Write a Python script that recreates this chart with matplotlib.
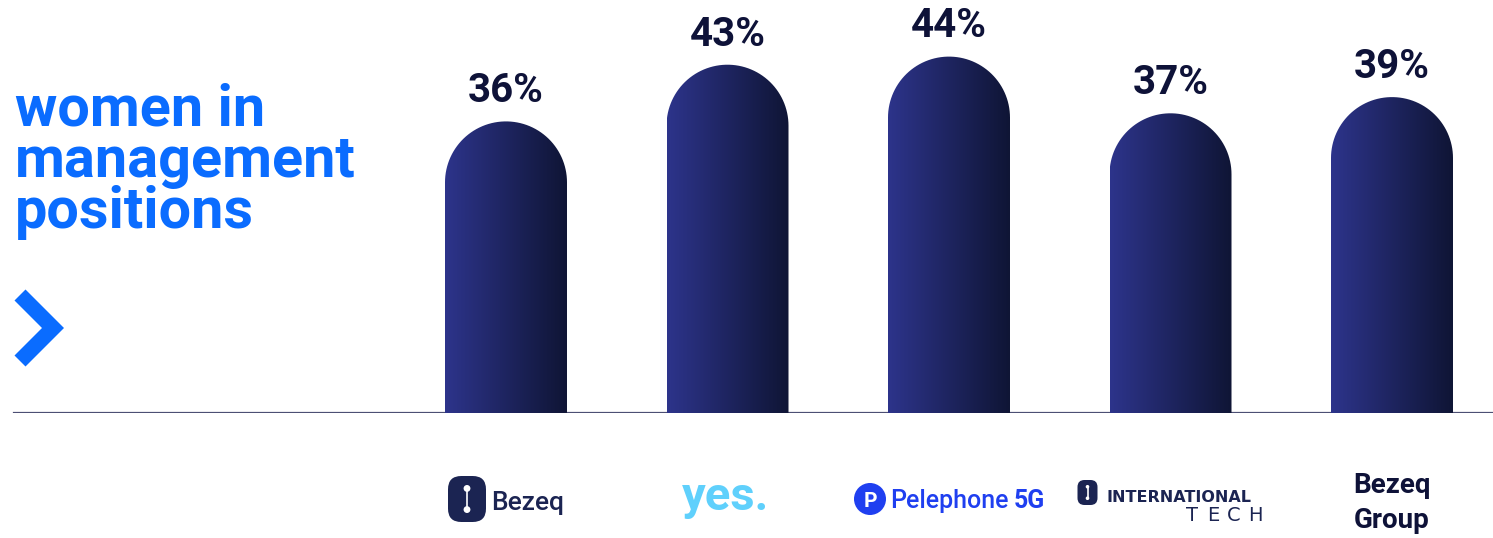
import numpy as np
import matplotlib
matplotlib.use("Agg")
import matplotlib.pyplot as plt
from matplotlib.path import Path
from matplotlib.patches import PathPatch, FancyBboxPatch, Circle
from matplotlib.colors import LinearSegmentedColormap
from matplotlib.lines import Line2D
from matplotlib.transforms import IdentityTransform

# data
companies = ["Bezeq", "yes", "Pelephone", "International Tech", "Bezeq Group"]
values = [36, 43, 44, 37, 39]
labels = ["36%", "43%", "44%", "37%", "39%"]
title_lines = ["women in", "management", "positions"]

W, H = 1493, 538
BLUE = "#0a6cff"
NAVY = "#0e1238"
LOGO_NAVY = "#1b2452"

plt.rcParams["font.family"] = ["Roboto", "DejaVu Sans"]

fig = plt.figure(figsize=(W / 100, H / 100), dpi=100)
ax = fig.add_axes([0, 125 / H, 1, 410 / H])
ax.set_xlim(-506 / 221.5, (W - 506) / 221.5)
ax.set_ylim(0, 410 / 8.1)
ax.axis("off")

cmap = LinearSegmentedColormap.from_list("bar", ["#2d348b", "#0f1535"])
grad = np.linspace(0, 1, 256).reshape(1, -1)

bar_w = 122 / 221.5
xlo, xhi = ax.get_xlim()
ylo, yhi = ax.get_ylim()
px_x = ax.bbox.width / (xhi - xlo)
px_y = ax.bbox.height / (yhi - ylo)
a = bar_w / 2
hy = a * px_x / px_y

for i, v in enumerate(values):
    x0, x1 = i - a, i + a
    t = np.linspace(np.pi, 0, 60)
    arc = np.column_stack([i + a * np.cos(t), v - hy + hy * np.sin(t)])
    verts = np.vstack([[x0, 0], [x0, v - hy], arc, [x1, v - hy], [x1, 0], [x0, 0]])
    codes = [Path.MOVETO] + [Path.LINETO] * (len(verts) - 2) + [Path.CLOSEPOLY]
    patch = PathPatch(Path(verts, codes), facecolor="none", edgecolor="none")
    ax.add_patch(patch)
    im = ax.imshow(grad, extent=[x0, x1, 0, v], cmap=cmap, aspect="auto",
                   zorder=3, interpolation="bilinear")
    im.set_clip_path(patch)
    ax.annotate(labels[i], (i, v), xytext=(0, 8), textcoords="offset points",
                ha="center", va="bottom", fontsize=29, fontweight="bold",
                color=NAVY, zorder=4)

ax.set_xlim(xlo, xhi)
ax.set_ylim(ylo, yhi)
ax.axhline(0, xmin=14 / W, xmax=1, color="#4c4f74", lw=1.6, zorder=2)

# helpers in pixel coords (from top)
ID = IdentityTransform()


def ptxt(x, y, s, **kw):
    fig.text(x, H - y, s, transform=ID, **kw)


def spaced(x0, x1, y, s, **kw):
    n = len(s)
    step = (x1 - x0) / n
    for k, ch in enumerate(s):
        ptxt(x0 + step * (k + 0.5), y, ch, ha="center", va="baseline", **kw)


def eight_icon(x0, y0, x1, y1):
    w, h = x1 - x0, y1 - y0
    fig.add_artist(FancyBboxPatch((x0, H - y1), w, h, boxstyle="round,pad=0,rounding_size=%f" % (w * 0.35),
                                  transform=ID, facecolor=LOGO_NAVY, edgecolor="none"))
    cx = (x0 + x1) / 2
    fig.add_artist(Line2D([cx, cx], [H - y0 - h * 0.27, H - y1 + h * 0.27], transform=ID,
                          color="white", lw=1.2))
    for fy in (0.27, 0.73):
        fig.add_artist(Circle((cx, H - y0 - h * fy), w * 0.09, transform=ID,
                              facecolor="white", edgecolor="none"))


# title
for k, line in enumerate(title_lines):
    ptxt(15, [125, 177, 228][k], line, fontsize=41.5, fontweight="bold", color=BLUE,
         va="baseline", ha="left")

# chevron
fig.add_artist(Line2D([20, 53, 20], [H - 295, H - 328, H - 361], transform=ID,
                      color=BLUE, lw=11.2, solid_joinstyle="miter", solid_capstyle="butt"))

# company logos
centers = [ax.transData.transform((i, 0))[0] for i in range(len(companies))]

c = centers[0]
eight_icon(c - 58, 476, c - 20, 522)
ptxt(c - 15, 510, "Bezeq", fontsize=19, fontweight="medium", color=LOGO_NAVY, va="baseline")

c = centers[1]
ptxt(c - 2, 510, "yes.", fontsize=34, fontweight="bold", color="#5fd0fc", ha="center", va="baseline")

c = centers[2]
fig.add_artist(Circle((c - 79, H - 499), 16, transform=ID, facecolor="#1f3ff0", edgecolor="none"))
ptxt(c - 79, 507, "P", fontsize=15, fontweight="bold", color="white", ha="center", va="baseline")
ptxt(c - 59, 508, "Pelephone", fontsize=18, fontweight="medium", color="#1f3ff0", va="baseline")
ptxt(c + 65, 508, "5G", fontsize=18, fontweight="bold", color="#1f3ff0", va="baseline")

c = centers[3]
eight_icon(c - 93, 480, c - 73, 505)
ptxt(c - 64, 502, "INTERNATIONAL", fontsize=11.5, fontweight="bold", color=LOGO_NAVY,
     va="baseline", family="DejaVu Sans")
spaced(c + 11, c + 95, 521, "TECH", fontsize=14, color=LOGO_NAVY, family="DejaVu Sans")

c = centers[4]
ptxt(c, 493, "Bezeq", fontsize=20, fontweight="semibold", color=NAVY, ha="center", va="baseline")
ptxt(c, 528, "Group", fontsize=20, fontweight="semibold", color=NAVY, ha="center", va="baseline")

fig.savefig("out.png", dpi=100, facecolor="white")
